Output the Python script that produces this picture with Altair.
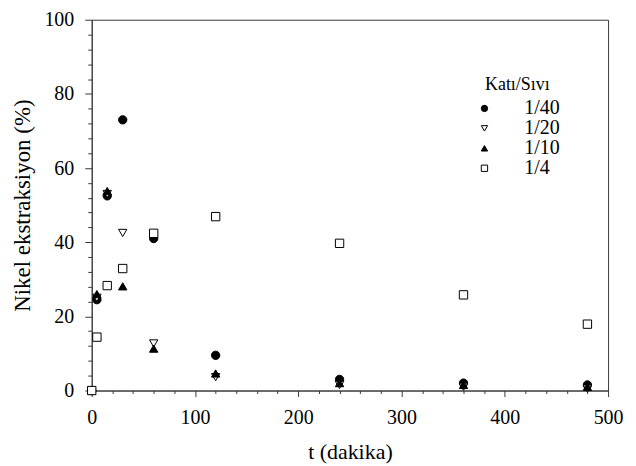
import altair as alt
import pandas as pd

t = [0, 5, 15, 30, 60, 120, 240, 360, 480]
series = ["1/40", "1/20", "1/10", "1/4"]
s_140 = [0, 24.5, 52.5, 73.0, 41.0, 9.5, 3.0, 2.0, 1.5]
s_120 = [0, 25.0, 53.0, 42.5, 12.7, 3.6, 1.5, 1.0, 0.5]
s_110 = [0, 26.0, 53.8, 28.1, 11.3, 4.6, 2.0, 1.5, 1.0]
s_14 = [0, 14.4, 28.3, 32.9, 42.4, 46.9, 39.7, 25.8, 17.9]

rows = []
for name, vals in zip(series, [s_140, s_120, s_110, s_14]):
    for ti, v in zip(t, vals):
        rows.append({"t": ti, "y": v, "Seri": name})
df = pd.DataFrame(rows)

FONT = "Liberation Serif"
AX = "#3a3a3a"

legend = alt.Legend(
    orient="none", legendX=384, legendY=57,
    title="Katı/Sıvı", titleFontSize=18, titleFontWeight="normal",
    titleColor="black", titlePadding=4, titleAnchor="middle",
    labelFontSize=20, labelColor="black", labelOffset=30,
    symbolSize=40, rowPadding=-1, symbolStrokeWidth=1,
)

chart = alt.Chart(df).mark_point(filled=True, size=70, strokeWidth=1, opacity=1).encode(
    x=alt.X("t:Q", title="t (dakika)",
            scale=alt.Scale(domain=[0, 500], nice=False, zero=False),
            axis=alt.Axis(values=list(range(0, 501, 20)),
                          labelExpr="datum.value % 100 === 0 ? datum.label : ''",
                          tickSize={"condition": {"test": "datum.value % 100 === 0", "value": 6}, "value": 3},
                          labelOverlap=False, labelFlush=False, grid=False,
                          labelFontSize=20, labelColor="black", labelPadding=11,
                          titleFontSize=22, titleFontWeight="normal", titleColor="black",
                          titlePadding=14, domainColor=AX, tickColor=AX)),
    y=alt.Y("y:Q", title="Nikel ekstraksiyon (%)",
            scale=alt.Scale(domain=[0, 100], nice=False, zero=False),
            axis=alt.Axis(values=list(range(0, 101, 4)),
                          labelExpr="datum.value % 20 === 0 ? datum.label : ''",
                          tickSize={"condition": {"test": "datum.value % 20 === 0", "value": 7}, "value": 4},
                          labelOverlap=False, labelFlush=False, grid=False,
                          labelFontSize=20, labelColor="black", labelPadding=11,
                          titleFontSize=23, titleFontWeight="normal", titleColor="black",
                          titlePadding=9, domainColor=AX, tickColor=AX)),
    shape=alt.Shape("Seri:N", sort=series,
                    scale=alt.Scale(domain=series, range=["circle", "triangle-down", "triangle-up", "square"]),
                    legend=legend),
    fill=alt.Fill("Seri:N", sort=series,
                  scale=alt.Scale(domain=series, range=["black", "white", "black", "white"]),
                  legend=legend),
    stroke=alt.Stroke("Seri:N", sort=series,
                      scale=alt.Scale(domain=series, range=["black", "black", "black", "black"]),
                      legend=legend),
    order=alt.Order("ord:Q"),
).transform_calculate(
    ord="indexof(['1/40','1/20','1/10','1/4'], datum.Seri)"
).properties(
    width=518, height=372,
    autosize=alt.AutoSizeParams(type="none"),
    padding={"left": 84, "top": 11, "right": 20, "bottom": 90},
).configure(background="white", font=FONT
).configure_axis(labelFont=FONT, titleFont=FONT
).configure_legend(labelFont=FONT, titleFont=FONT
).configure_view(stroke=AX, strokeWidth=1)

chart.save("out.html", embed_options={"renderer": "svg", "actions": False})
